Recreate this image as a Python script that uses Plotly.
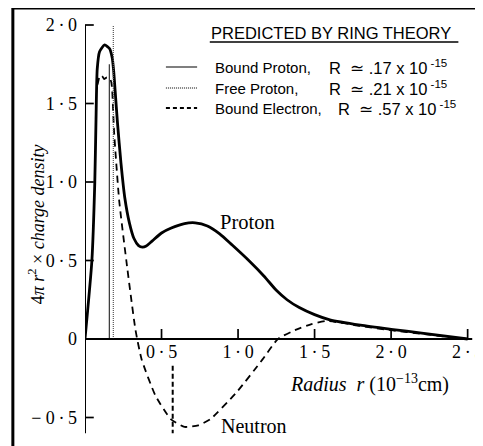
import plotly.graph_objects as go

# ---------------- data ----------------
proton_x = [0, 0.045, 0.064, 0.072, 0.080, 0.095, 0.128, 0.160, 0.178, 0.188, 0.197, 0.212, 0.235,
            0.260, 0.290, 0.320, 0.350, 0.375, 0.40, 0.44, 0.50, 0.56, 0.65, 0.72, 0.80, 0.88, 0.96,
            1.07, 1.17, 1.25, 1.32, 1.40, 1.50, 1.60, 1.80, 2.00, 2.20, 2.50]
proton_y = [0, 0.50, 1.00, 1.40, 1.72, 1.83, 1.873, 1.85, 1.79, 1.70, 1.58, 1.38, 1.12,
            0.90, 0.74, 0.64, 0.595, 0.585, 0.592, 0.625, 0.675, 0.705, 0.735, 0.74, 0.72, 0.67, 0.60,
            0.50, 0.40, 0.31, 0.25, 0.20, 0.155, 0.122, 0.088, 0.062, 0.038, 0.0]

neutron_x = [0.082, 0.090, 0.100, 0.112, 0.125, 0.140, 0.160, 0.172, 0.178,
             0.190, 0.223, 0.270, 0.330, 0.370, 0.460, 0.560, 0.650, 0.740, 0.820, 0.990, 1.160,
             1.260, 1.380, 1.480, 1.580, 1.800, 2.000, 2.200, 2.500]
neutron_y = [1.62, 1.655, 1.68, 1.675, 1.655, 1.665, 1.665, 1.635, 1.58,
             1.32, 0.885, 0.50, 0.057, -0.13, -0.36, -0.51, -0.56, -0.55, -0.51, -0.34, -0.13,
             0.0, 0.06, 0.095, 0.115, 0.083, 0.056, 0.033, 0.0]

# ring-theory radii (vertical markers), as placed in the picture
bound_proton_r = 0.159
bound_proton_top = 1.75
free_proton_r = 0.185
free_proton_top = 2.0
bound_electron_r = 0.573
bound_electron_span = [-0.17, -0.60]

y_tickvals = [-0.5, 0, 0.5, 1.0, 1.5, 2.0]
y_ticktext = ["\u2212 0\u2009·\u20095", "0", "0\u2009·\u20095", "1\u2009·\u20090",
              "1\u2009·\u20095", "2\u2009·\u20090"]
x_tickvals = [0.5, 1.0, 1.5, 2.0, 2.5]
x_ticktext = ["0\u2009·\u20095", "1\u2009·\u20090", "1\u2009·\u20095", "2\u2009·\u20090", "2\u2009·\u20095"]

legend_names = ["Bound Proton,", "Free Proton,", "Bound Electron,"]
legend_R = [".17", ".21", ".57"]
legend_dash = ["solid", "dot", "dash"]

# ---------------- geometry (page has an 8px body margin) ----------------
OFF = 8
W, H = 483 - OFF, 446 - OFF
L = 85 - OFF
Y0PX = 339.0 - OFF
PPU = 157.0  # pixels per unit
x_range = [0, (W - L) / PPU]
y_range = [(Y0PX - H) / PPU, Y0PX / PPU]
x_axis_pos = (0 - y_range[0]) / (y_range[1] - y_range[0])
XTICK_LEN = 10 / PPU
YTICK_LEN = 9 / PPU

def px(xp):  # page pixel -> paper
    return (xp - OFF - L) / (W - L)

def py(yp):
    return 1 - (yp - OFF) / H

serif = "Liberation Serif"
sans = "Liberation Sans"
NB = "\u00a0"

fig = go.Figure()

fig.add_trace(go.Scatter(x=proton_x, y=proton_y, mode="lines",
                         line=dict(color="black", width=2.8, shape="spline", smoothing=0.6),
                         showlegend=False, hoverinfo="skip"))
fig.add_trace(go.Scatter(x=neutron_x, y=neutron_y, mode="lines",
                         line=dict(color="black", width=1.8, dash="7px,5px", shape="spline", smoothing=0.5),
                         showlegend=False, hoverinfo="skip"))
fig.add_trace(go.Scatter(x=[bound_proton_r, bound_proton_r], y=[0, bound_proton_top], mode="lines",
                         line=dict(color="#333", width=1.2), showlegend=False, hoverinfo="skip"))
fig.add_trace(go.Scatter(x=[free_proton_r, free_proton_r], y=[0, free_proton_top], mode="lines",
                         line=dict(color="#555", width=1.2, dash="1px,1px"), showlegend=False, hoverinfo="skip"))
fig.add_trace(go.Scatter(x=[bound_electron_r, bound_electron_r], y=bound_electron_span, mode="lines",
                         line=dict(color="black", width=2, dash="5px,3px"), showlegend=False, hoverinfo="skip"))

# inside tick marks, one short segment per tick value
tick_x, tick_y = [], []
for v in x_tickvals:
    tick_x += [v, v, None]
    tick_y += [0, XTICK_LEN, None]
for v in y_tickvals:
    if v == 0:
        continue
    tick_x += [0, YTICK_LEN, None]
    tick_y += [v, v, None]
fig.add_trace(go.Scatter(x=tick_x, y=tick_y, mode="lines", connectgaps=False,
                         line=dict(color="black", width=1.7, shape="linear"),
                         showlegend=False, hoverinfo="skip"))

shapes = []
shapes.append(dict(type="line", xref="x", yref="y", x0=0, x1=2.53, y0=0, y1=0,
                   line=dict(color="black", width=2)))
shapes.append(dict(type="line", xref="x", yref="y", x0=0, x1=0, y0=-0.6, y1=2.0,
                   line=dict(color="black", width=2)))
# frame
shapes.append(dict(type="line", xref="paper", yref="paper", x0=px(11), x1=px(11), y0=py(7), y1=py(460),
                   line=dict(color="black", width=3)))
shapes.append(dict(type="line", xref="paper", yref="paper", x0=px(10), x1=px(500), y0=py(8), y1=py(8),
                   line=dict(color="black", width=3)))
# legend title underline
shapes.append(dict(type="line", xref="paper", yref="paper", x0=px(213), x1=px(468), y0=py(42), y1=py(42),
                   line=dict(color="black", width=1.3)))

annotations = []
annotations.append(dict(xref="paper", yref="paper", x=px(212), y=py(33), xanchor="left", yanchor="middle",
                        text="PREDICTED BY RING THEORY", showarrow=False,
                        font=dict(family=sans, size=16.5, color="black")))
row_y = [67, 88, 108]
r_x = [333, 333, 342]
dash_map = {"solid": "solid", "dot": "1px,1px", "dash": "4px,3px"}
width_map = {"solid": 1.2, "dot": 1.0, "dash": 2.0}
for name, rv, ds, ry, rx in zip(legend_names, legend_R, legend_dash, row_y, r_x):
    shapes.append(dict(type="line", xref="paper", yref="paper", x0=px(168), x1=px(200), y0=py(ry), y1=py(ry),
                       line=dict(color="black", width=width_map[ds], dash=dash_map[ds])))
    annotations.append(dict(xref="paper", yref="paper", x=px(216), y=py(ry), xanchor="left", yanchor="middle",
                            text=name, showarrow=False, font=dict(family=sans, size=15, color="black")))
    annotations.append(dict(xref="paper", yref="paper", x=px(rx), y=py(ry), xanchor="left", yanchor="middle",
                            text="R" + NB + NB + "\u2243" + NB + rv + NB + "x" + NB + "10<sup>" + NB + "-15</sup>",
                            showarrow=False,
                            font=dict(family=sans, size=16.5, color="black")))

annotations.append(dict(xref="paper", yref="paper", x=px(252), y=py(222), xanchor="center", yanchor="middle",
                        text="Proton", showarrow=False,
                        font=dict(family=serif, size=20.5, color="black")))
annotations.append(dict(xref="paper", yref="paper", x=px(258), y=py(426), xanchor="center", yanchor="middle",
                        text="Neutron", showarrow=False,
                        font=dict(family=serif, size=20, color="black")))
annotations.append(dict(xref="paper", yref="paper", x=px(377), y=py(383), xanchor="center", yanchor="middle",
                        text="<i>Radius  r</i> (10<sup>\u221213</sup>cm)", showarrow=False,
                        font=dict(family=serif, size=20, color="black")))
annotations.append(dict(xref="paper", yref="paper", x=px(35), y=py(224), xanchor="center", yanchor="middle",
                        textangle=-90,
                        text="4<i>\u03c0 r</i><sup>2</sup> \u00d7 <i>charge density</i>", showarrow=False,
                        font=dict(family=serif, size=18, color="black")))

fig.update_layout(
    width=W, height=H,
    margin=dict(l=L, r=0, t=0, b=0, pad=0),
    paper_bgcolor="white", plot_bgcolor="white",
    showlegend=False,
    xaxis=dict(range=x_range, showgrid=False, zeroline=False, showline=False,
               anchor="free", position=x_axis_pos,
               tickmode="array", tickvals=x_tickvals, ticktext=x_ticktext,
               ticks="", ticklabeloverflow="allow",
               tickfont=dict(family=serif, size=18, color="black")),
    yaxis=dict(range=y_range, showgrid=False, zeroline=False, showline=False,
               tickmode="array", tickvals=y_tickvals, ticktext=y_ticktext,
               ticks="", ticklabelstandoff=7, ticklabeloverflow="allow",
               tickfont=dict(family=serif, size=18, color="black")),
    shapes=shapes,
    annotations=annotations,
)

fig.write_html("out.html")
